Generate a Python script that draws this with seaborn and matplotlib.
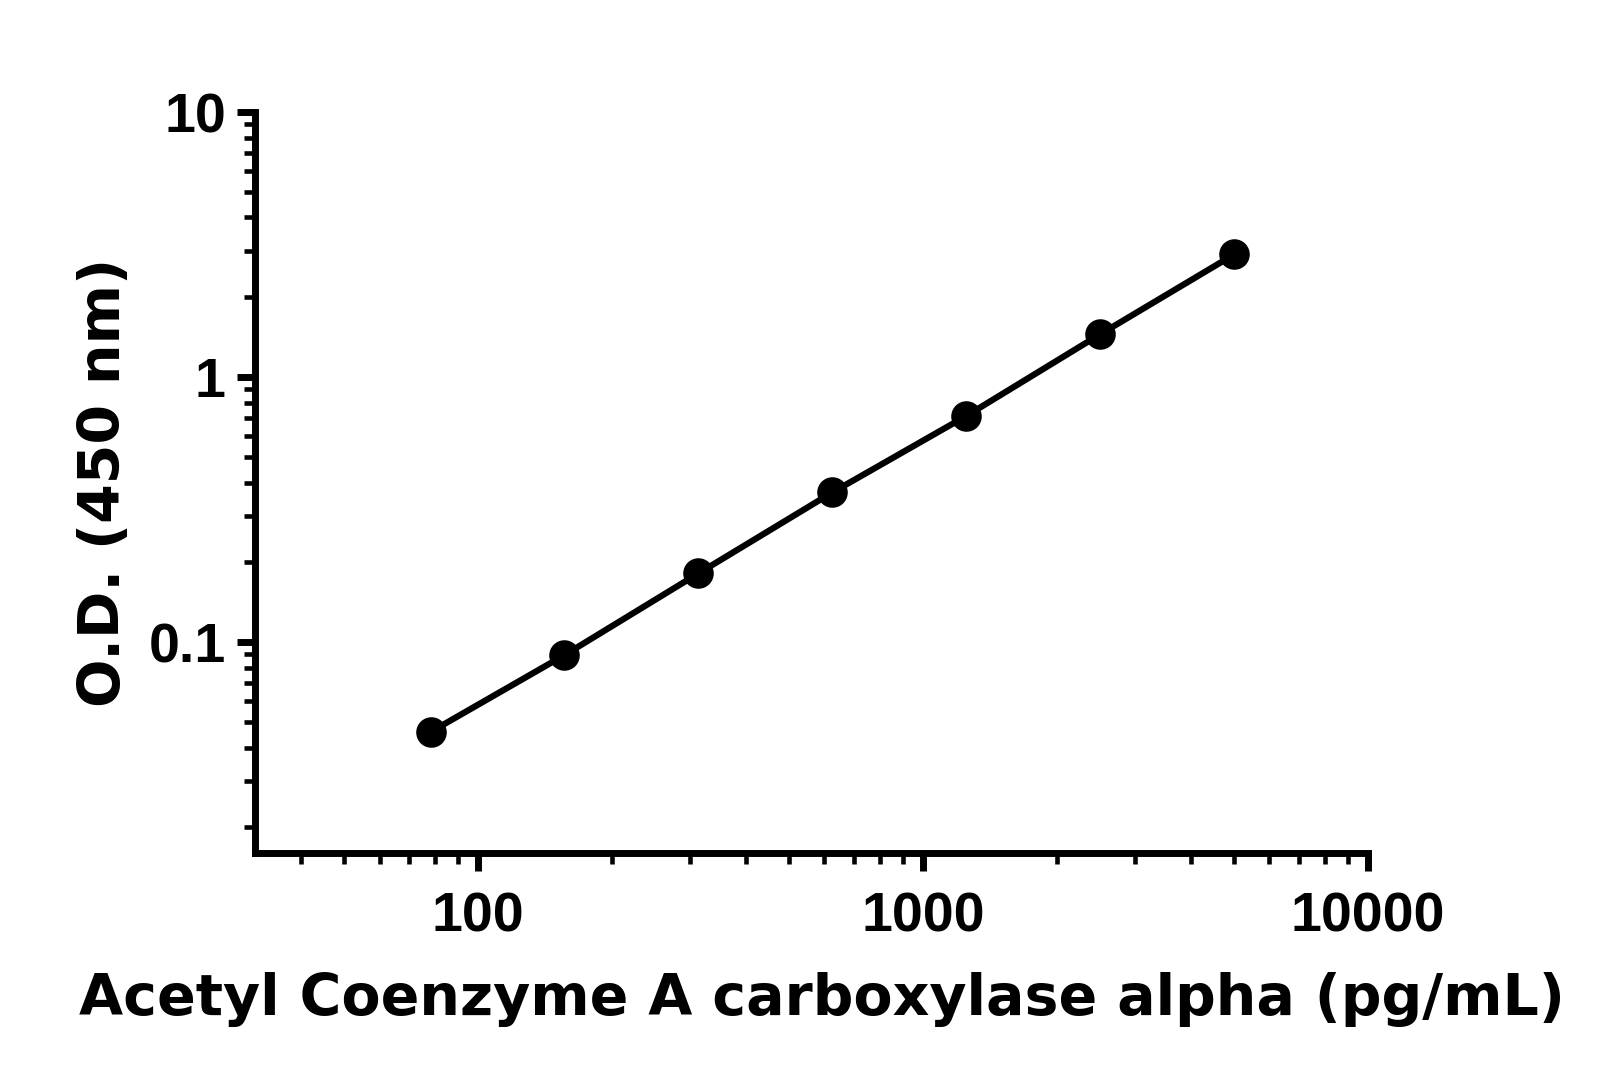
import matplotlib
matplotlib.use("Agg")
import matplotlib.pyplot as plt
import matplotlib.ticker as mticker
import seaborn as sns
import pandas as pd

# Data
concentration = [78.125, 156.25, 312.5, 625, 1250, 2500, 5000]
od_450 = [0.0458, 0.0893, 0.1816, 0.367, 0.713, 1.45, 2.90]
x_ticks = [100, 1000, 10000]
x_tick_labels = ["100", "1000", "10000"]
y_ticks = [0.1, 1, 10]
y_tick_labels = ["0.1", "1", "10"]
x_label = "Acetyl Coenzyme A carboxylase alpha (pg/mL)"
y_label = "O.D. (450 nm)"

df = pd.DataFrame({"conc": concentration, "od": od_450})

sns.set_theme(style="ticks")
plt.rcParams["font.family"] = ["DejaVu Sans"]
plt.rcParams["text.color"] = "black"
plt.rcParams["axes.labelcolor"] = "black"
plt.rcParams["xtick.color"] = "black"
plt.rcParams["ytick.color"] = "black"
plt.rcParams["xtick.labelcolor"] = "black"
plt.rcParams["ytick.labelcolor"] = "black"

fig = plt.figure(figsize=(16, 10.78), dpi=100)
ax = fig.add_axes([0.1594, 0.2087, 0.6956, 0.6874])

sns.lineplot(data=df, x="conc", y="od", ax=ax, color="black", linewidth=4.5,
             marker="o", markersize=22, markeredgewidth=0, markerfacecolor="black")

ax.set_xscale("log")
ax.set_yscale("log")
ax.set_xlim(31.5, 10000)
ax.set_ylim(0.016, 10)

ax.xaxis.set_major_locator(mticker.FixedLocator(x_ticks))
ax.xaxis.set_major_formatter(mticker.FixedFormatter(x_tick_labels))
ax.yaxis.set_major_locator(mticker.FixedLocator(y_ticks))
ax.yaxis.set_major_formatter(mticker.FixedFormatter(y_tick_labels))
ax.xaxis.set_minor_locator(mticker.LogLocator(base=10, subs=range(2, 10), numticks=20))
ax.yaxis.set_minor_locator(mticker.LogLocator(base=10, subs=range(2, 10), numticks=20))
ax.xaxis.set_minor_formatter(mticker.NullFormatter())
ax.yaxis.set_minor_formatter(mticker.NullFormatter())

for s in ["top", "right"]:
    ax.spines[s].set_visible(False)
for s in ["left", "bottom"]:
    ax.spines[s].set_linewidth(5)
    ax.spines[s].set_color("black")
    ax.spines[s].set_capstyle("projecting")

ax.tick_params(which="major", length=13, width=5, color="black")
ax.tick_params(which="minor", length=8, width=3.3, color="black")
ax.tick_params(axis="x", which="major", pad=15)
ax.tick_params(axis="y", which="major", pad=8)

for lab in ax.get_xticklabels() + ax.get_yticklabels():
    lab.set_fontfamily(["Liberation Sans", "DejaVu Sans"])
    lab.set_fontweight("bold")
    lab.set_fontsize(40)
    lab.set_fontstretch("condensed")
    lab.set_color("black")

ax.set_xlabel(x_label, fontsize=41, fontweight="bold", color="black")
ax.xaxis.set_label_coords(0.509, -0.16)
ax.set_ylabel(y_label, fontsize=41, fontweight="bold", labelpad=12, color="black")
ax.grid(False)

fig.savefig("out.png", dpi=100, facecolor="white")
